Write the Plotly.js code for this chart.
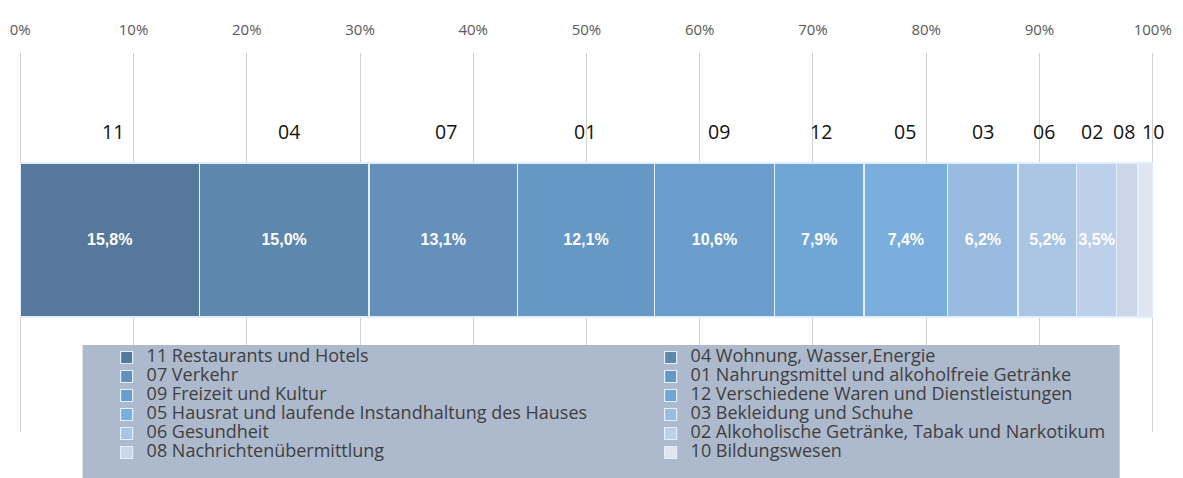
<!DOCTYPE html>
<html>
<head>
<meta charset="utf-8">
<script src="https://cdn.plot.ly/plotly-3.0.1.min.js"></script>
<style>html,body{margin:0;padding:0;background:#ffffff;}</style>
</head>
<body>
<div id="chart" style="width:1183px;height:478px;"></div>
<script>
// ---- data ----
const codes = ['11','04','07','01','09','12','05','03','06','02','08','10'];
const names = [
  'Restaurants und Hotels',
  'Wohnung, Wasser,Energie',
  'Verkehr',
  'Nahrungsmittel und alkoholfreie Getränke',
  'Freizeit und Kultur',
  'Verschiedene Waren und Dienstleistungen',
  'Hausrat und laufende Instandhaltung des Hauses',
  'Bekleidung und Schuhe',
  'Gesundheit',
  'Alkoholische Getränke, Tabak und Narkotikum',
  'Nachrichtenübermittlung',
  'Bildungswesen'
];
const shares = [15.8, 15.0, 13.1, 12.1, 10.6, 7.9, 7.4, 6.2, 5.2, 3.5, 1.9, 1.3];
const tickValues = [0,10,20,30,40,50,60,70,80,90,100];
const tickLabels = ['0%','10%','20%','30%','40%','50%','60%','70%','80%','90%','100%'];

// ---- styles ----
const colors = ['#56789c','#5e87ad','#6490bb','#6698c5','#6a9dcb','#6fa6d6',
                '#7aaedd','#9abbe0','#aac4e4','#bcd0ec','#cbd7e8','#dfe6f0'];
const codeShift = [3,5,3,-1,5,2,-1,0,-3,-5,-3,8];
const FONT = 'Open Sans, Liberation Sans, Arial, sans-serif';

const traces = codes.map((c, i) => ({
  type: 'bar',
  orientation: 'h',
  x: [shares[i]],
  y: [0],
  width: 1,
  name: '<span style="font-size:18px">' + c + ' ' + names[i] + '</span>',
  marker: {color: colors[i], line: {color: '#e2efff', width: 1.2}},
  texttemplate: shares[i] >= 3 ? '%{x:.1f}%' : '',
  textposition: 'inside',
  insidetextanchor: 'middle',
  textangle: 0,
  constraintext: 'none',
  textfont: {family: 'Liberation Sans, Arial, sans-serif', size: 16, color: '#ffffff', weight: 'bold'},
  hoverinfo: 'skip'
}));

// code labels above segments
let cum = 0;
const annotations = codes.map((c, i) => {
  const center = cum + shares[i] / 2;
  cum += shares[i];
  return {
    x: center, y: 0.5, xref: 'x', yref: 'y',
    text: c, showarrow: false,
    yanchor: 'middle', xanchor: 'center',
    yshift: 31, xshift: codeShift[i],
    font: {family: FONT, size: 19.5, color: '#111111'}
  };
});

const L = 18.4, R = 27.7, T = 53, B = 46, W = 1183, H = 478;
const pw = W - L - R, ph = H - T - B;
const px2x = p => (p - L) / pw;
const py2y = p => (H - B - p) / ph;

const layout = {
  width: W, height: H,
  margin: {l: L, r: R, t: T, b: B, pad: 0, autoexpand: false},
  paper_bgcolor: '#ffffff',
  plot_bgcolor: '#ffffff',
  barmode: 'stack',
  bargap: 0,
  separators: ',.',
  showlegend: true,
  xaxis: {
    side: 'top',
    range: [-0.2, 100.2],
    tickvals: tickValues,
    ticktext: tickLabels,
    showgrid: true,
    gridcolor: '#d0d0d0',
    gridwidth: 1,
    zeroline: false,
    showline: false,
    ticks: '',
    ticklabelstandoff: 14,
    tickfont: {family: FONT, size: 15, color: '#595959'},
    fixedrange: true
  },
  yaxis: {
    range: [-1.247, 1.214],
    showgrid: false, zeroline: false, showticklabels: false, ticks: '',
    fixedrange: true
  },
  legend: {
    orientation: 'h',
    x: 0, xanchor: 'left',
    y: py2y(343), yanchor: 'top',
    indentation: 88.6,
    bgcolor: 'rgba(0,0,0,0)',
    entrywidth: 410.4,
    entrywidthmode: 'pixels',
    traceorder: 'normal',
    font: {family: FONT, size: 12.3, color: '#3f3f3f'},
    itemclick: false, itemdoubleclick: false
  },
  shapes: [{
    type: 'rect', xref: 'paper', yref: 'paper', layer: 'above',
    x0: px2x(83), x1: px2x(1120), y0: py2y(345), y1: py2y(490),
    fillcolor: '#adb9cc', line: {width: 0}
  }],
  annotations: annotations
};

Plotly.newPlot('chart', traces, layout, {displayModeBar: false, staticPlot: true});
</script>
</body>
</html>
